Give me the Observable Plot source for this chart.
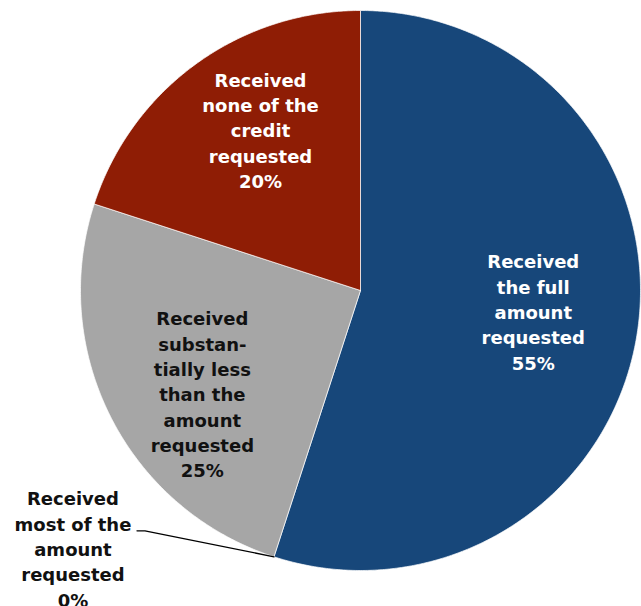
<!DOCTYPE html>
<html><head><meta charset="utf-8">
<script src="https://cdn.jsdelivr.net/npm/d3@7"></script>
<script src="https://cdn.jsdelivr.net/npm/@observablehq/plot@0.6"></script>
<style>body{margin:0;background:#fff}svg{display:block}</style>
</head><body><div id="chart"></div>
<script>
const categories = [
  "Received the full amount requested",
  "Received most of the amount requested",
  "Received substantially less than the amount requested",
  "Received none of the credit requested"
];
const shares = [55, 0, 25, 20];
const labelTexts = [
  "Received\nthe full\namount\nrequested\n55%",
  "Received\nmost of the\namount\nrequested\n0%",
  "Received\nsubstan-\ntially less\nthan the\namount\nrequested\n25%",
  "Received\nnone of the\ncredit\nrequested\n20%"
];
const colors = ["#17477a", "#5b7fa8", "#a6a6a6", "#8f1d05"];

const W = 641, H = 606, CX = 360, CY = 290, R = 280;
const data = categories.map((c, i) => ({cat: c, share: shares[i], label: labelTexts[i]}));
const arcs = d3.pie().sort(null).value(d => d.share)(data);

// polygon points for each slice (unit circle, y up, angle clockwise from 12 o'clock)
const poly = [];
for (const a of arcs) {
  if (a.endAngle - a.startAngle <= 0) continue;
  poly.push({cat: a.data.cat, x: 0, y: 0});
  const n = Math.max(2, Math.ceil((a.endAngle - a.startAngle) / (Math.PI / 360)));
  for (let k = 0; k <= n; k++) {
    const t = a.startAngle + (a.endAngle - a.startAngle) * k / n;
    poly.push({cat: a.data.cat, x: Math.sin(t), y: Math.cos(t)});
  }
  poly.push({cat: a.data.cat, x: 0, y: 0});
}

const labels = arcs.map(a => {
  const m = (a.startAngle + a.endAngle) / 2;
  return {cat: a.data.cat, label: a.data.label, share: a.data.share, mid: m,
          x: 0.65 * Math.sin(m), y: 0.65 * Math.cos(m),
          ex: Math.sin(m), ey: Math.cos(m)};
});
const inside = labels.filter(d => d.share > 0);
const outside = labels.filter(d => d.share === 0);
// outside label placed left of the slice edge; leader from label to edge
const px = 1 / R;
const outLabel = outside.map(d => ({...d, x: d.ex - 201 * px, y: d.ey + 9 * px}));
const leader = outside.flatMap(d => [
  {cat: d.cat, x: d.ex - 137 * px, y: d.ey + 26 * px},
  {cat: d.cat, x: d.ex - 129 * px, y: d.ey + 26 * px},
  {cat: d.cat, x: d.ex, y: d.ey}
]);

const offsets = {
  [categories[0]]: [-7, -8],
  [categories[2]]: [4, 20],
  [categories[3]]: [7, -14]
};
const textColor = {
  [categories[0]]: "white",
  [categories[2]]: "#111",
  [categories[3]]: "white"
};
const font = "Tahoma, 'DejaVu Sans', sans-serif";

const textMarks = inside.map(d => Plot.text([d], {
  x: "x", y: "y", text: "label",
  dx: offsets[d.cat][0], dy: offsets[d.cat][1],
  fill: textColor[d.cat], fontWeight: "bold", fontSize: 18,
  lineHeight: 1.41, lineAnchor: "middle", textAnchor: "middle", fontFamily: font
}));

const chart = Plot.plot({
  width: W, height: H,
  marginTop: 0, marginRight: 0, marginBottom: 0, marginLeft: 0,
  x: {domain: [-CX / R, (W - CX) / R], range: [0, W], axis: null},
  y: {domain: [(CY - H) / R, CY / R], range: [H, 0], axis: null},
  color: {domain: categories, range: colors},
  style: {background: "white"},
  marks: [
    Plot.line(poly, {x: "x", y: "y", z: "cat", fill: "cat", stroke: "white", strokeWidth: 1, strokeOpacity: 0.7, curve: "linear"}),
    Plot.line(leader, {x: "x", y: "y", z: "cat", stroke: "black", strokeWidth: 1.3, curve: "linear"}),
    ...textMarks,
    Plot.text(outLabel, {x: "x", y: "y", text: "label", fill: "#111", fontWeight: "bold", fontSize: 18,
      lineHeight: 1.41, lineAnchor: "middle", textAnchor: "middle", fontFamily: font})
  ]
});
document.getElementById("chart").append(chart);
</script>
</body></html>
